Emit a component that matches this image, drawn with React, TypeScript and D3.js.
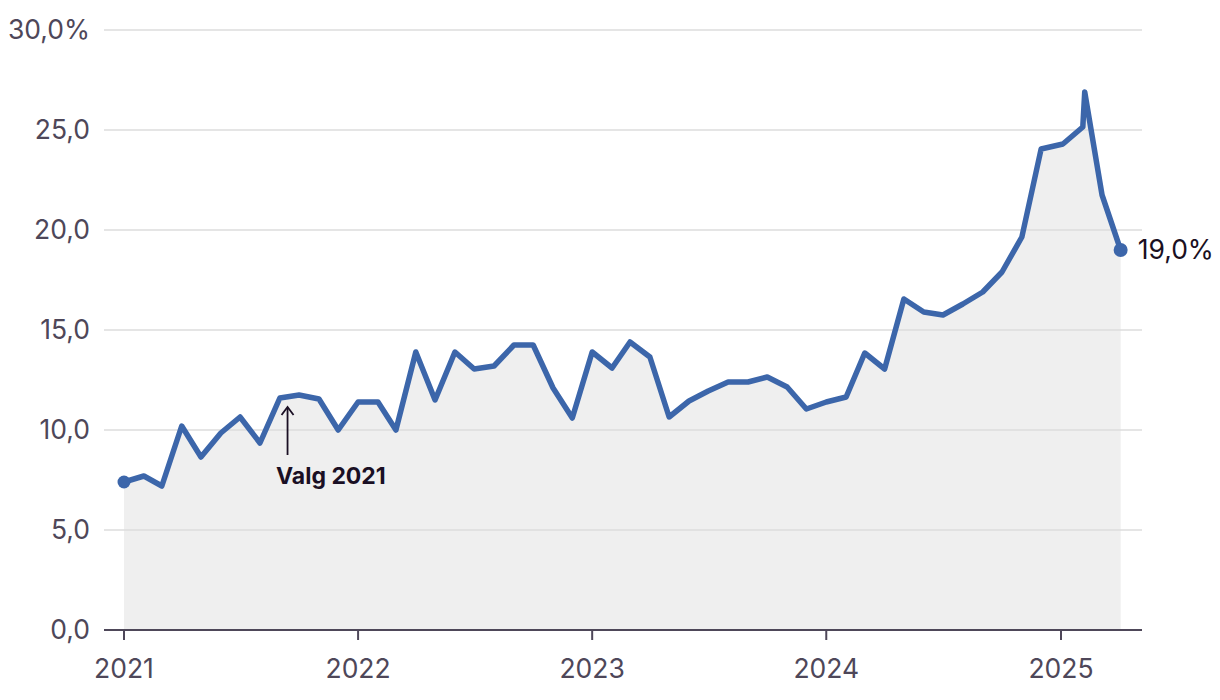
import React from "react";
import * as d3 from "d3";

const dates: string[] = [
  "2021-01-01","2021-02-01","2021-03-01","2021-04-01","2021-05-01","2021-06-01","2021-07-01","2021-08-01","2021-09-01","2021-10-01","2021-11-01","2021-12-01",
  "2022-01-01","2022-02-01","2022-03-01","2022-04-01","2022-05-01","2022-06-01","2022-07-01","2022-08-01","2022-09-01","2022-10-01","2022-11-01","2022-12-01",
  "2023-01-01","2023-02-01","2023-03-01","2023-04-01","2023-05-01","2023-06-01","2023-07-01","2023-08-01","2023-09-01","2023-10-01","2023-11-01","2023-12-01",
  "2024-01-01","2024-02-01","2024-03-01","2024-04-01","2024-05-01","2024-06-01","2024-07-01","2024-08-01","2024-09-01","2024-10-01","2024-11-01","2024-12-01",
  "2025-01-04","2025-02-04","2025-02-07","2025-03-06","2025-04-04",
];
const values: number[] = [
  7.4, 7.7, 7.2, 10.2, 8.65, 9.85, 10.65, 9.35, 11.6, 11.75, 11.55, 10.0,
  11.4, 11.4, 10.0, 13.9, 11.5, 13.9, 13.05, 13.2, 14.25, 14.25, 12.1, 10.6,
  13.9, 13.1, 14.4, 13.65, 10.65, 11.45, 11.95, 12.4, 12.4, 12.65, 12.15, 11.05,
  11.4, 11.65, 13.85, 13.05, 16.55, 15.9, 15.75, 16.3, 16.9, 17.9, 19.65, 24.05,
  24.3, 25.15, 26.9, 21.75, 19.0,
];
const yTicks: number[] = [0, 5, 10, 15, 20, 25, 30];
const xTickYears: number[] = [2021, 2022, 2023, 2024, 2025];
const annotationDate = "2021-09-13";
const annotationText = "Valg 2021";

const parse = d3.timeParse("%Y-%m-%d");
const FONT = "Inter, 'Liberation Sans', Arial, sans-serif";

export default function App() {
  const data = dates.map((d, i) => ({ date: parse(d) as Date, value: values[i] }));
  const x = d3.scaleTime().domain([new Date(2021, 0, 1), new Date(2025, 0, 1)]).range([124, 1061]);
  const y = d3.scaleLinear().domain([0, 30]).range([630, 30]);
  const left = 104;
  const right = 1142;

  const line = d3.line<{ date: Date; value: number }>().x(d => x(d.date)).y(d => y(d.value));
  const area = d3.area<{ date: Date; value: number }>().x(d => x(d.date)).y0(y(0)).y1(d => y(d.value));
  const fmt = (v: number) => v.toFixed(1).replace(".", ",");
  const first = data[0];
  const last = data[data.length - 1];
  const ax = x(parse(annotationDate) as Date);

  return (
    <svg width={1220} height={700} style={{ position: "absolute", left: 0, top: 0, background: "#fff" }}>
      <path d={area(data) || ""} fill="#efefef" />
      {yTicks.filter(t => t > 0).map(t => (
        <line key={t} x1={left} x2={right} y1={y(t)} y2={y(t)} stroke="#dcdcdc" strokeWidth={1.5} />
      ))}
      {yTicks.map(t => (
        <text key={"l" + t} x={90} y={y(t)} dy="0.35em" textAnchor="end" fontFamily={FONT} fontSize={26.5} fill="#4e4759">
          {fmt(t) + (t === 30 ? "%" : "")}
        </text>
      ))}
      <line x1={left} x2={right} y1={y(0)} y2={y(0)} stroke="#4e4759" strokeWidth={2} />
      {xTickYears.map(yr => {
        const xx = x(new Date(yr, 0, 1));
        return (
          <g key={yr}>
            <line x1={xx} x2={xx} y1={y(0)} y2={y(0) + 10} stroke="#4e4759" strokeWidth={2} />
            <text x={xx} y={y(0) + 48} textAnchor="middle" fontFamily={FONT} fontSize={26.5} fill="#4e4759">{yr}</text>
          </g>
        );
      })}
      <path d={line(data) || ""} fill="none" stroke="#3c66aa" strokeWidth={5.5} strokeLinejoin="round" strokeLinecap="round" />
      <circle cx={x(first.date)} cy={y(first.value)} r={6.5} fill="#3c66aa" />
      <circle cx={x(last.date)} cy={y(last.value)} r={7} fill="#3c66aa" />
      <text x={x(last.date) + 17} y={y(last.value)} dy="0.35em" fontFamily={FONT} fontSize={26.5} fill="#1a1022">
        {fmt(last.value) + "%"}
      </text>
      <line x1={ax} x2={ax} y1={455} y2={408} stroke="#1a0f24" strokeWidth={1.8} />
      <path d={`M${ax - 6},${415} L${ax},${407} L${ax + 6},${415}`} fill="none" stroke="#1a0f24" strokeWidth={1.8} />
      <text x={276} y={484} fontFamily={FONT} fontSize={23} fontWeight={700} fill="#1a0f24">{annotationText}</text>
    </svg>
  );
}
